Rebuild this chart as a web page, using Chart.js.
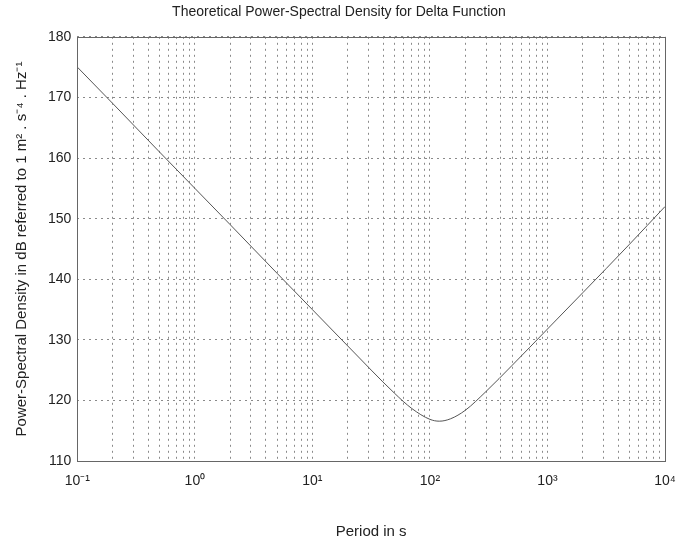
<!DOCTYPE html>
<html>
<head>
<meta charset="utf-8">
<script src="https://cdn.jsdelivr.net/npm/chart.js@4/dist/chart.umd.min.js"></script>
<style>
  html, body { margin: 0; padding: 0; background: #fff; }
  #wrap { width: 682px; height: 545px; }
</style>
</head>
<body>
<div id="wrap"><canvas id="psd" width="682" height="545"></canvas></div>
<script>
// period (s) and theoretical PSD (dB re 1 m^2 s^-4 Hz^-1)
const periods = [0.1, 0.2, 0.5, 1, 2, 5, 10, 20, 50, 70, 100, 120, 150, 200, 300, 500, 1000, 2000, 5000, 10000];
const psdDb   = [175, 169, 161, 155, 149, 141, 135, 129, 121.2, 118.7, 116.9, 116.6, 117.0, 118.4, 121.5, 125.8, 131.8, 137.8, 145.8, 152];

const yTicks = [110, 120, 130, 140, 150, 160, 170, 180];
const xDecades = [0.1, 1, 10, 100, 1000, 10000];
const xDecadeLabels = ['10⁻¹', '10⁰', '10¹', '10²', '10³', '10⁴'];

const font = "'Liberation Sans', Arial, sans-serif";

// box around the axes, like the classic plot frame
const frame = {
  id: 'frame',
  afterDraw(chart) {
    const a = chart.chartArea, c = chart.ctx;
    c.save();
    c.strokeStyle = '#666';
    c.lineWidth = 1;
    c.strokeRect(Math.round(a.left) + 0.5, Math.round(a.top) + 0.5,
                 Math.round(a.right - a.left), Math.round(a.bottom - a.top));
    c.restore();
  }
};

new Chart(document.getElementById('psd'), {
  type: 'line',
  data: {
    datasets: [{
      data: periods.map((p, i) => ({x: p, y: psdDb[i]})),
      borderColor: '#555',
      borderWidth: 1,
      pointRadius: 0,
      tension: 0.4,
      cubicInterpolationMode: 'monotone'
    }]
  },
  options: {
    responsive: false,
    animation: false,
    layout: { autoPadding: false, padding: { left: 13, right: 17, top: 0, bottom: 4 } },
    plugins: {
      legend: { display: false },
      tooltip: { enabled: false },
      title: {
        display: true,
        text: 'Theoretical Power-Spectral Density for Delta Function',
        color: '#222',
        font: { family: font, size: 14, weight: 'normal' },
        padding: { top: 4, bottom: 16 }
      }
    },
    scales: {
      x: {
        type: 'logarithmic',
        min: 0.1,
        max: 10000,
        afterBuildTicks(scale) {
          const t = [];
          xDecades.forEach(d => {
            for (let m = 1; m <= 9; m++) {
              const v = +(d * m).toPrecision(6);
              if (v <= 10000) t.push({ value: v });
              if (d === 10000) break;
            }
          });
          scale.ticks = t;
        },
        // let the end labels hang past the plot edge
        afterFit(scale) {
          scale.paddingLeft = 0;
          scale.paddingRight = 0;
        },
        ticks: {
          autoSkip: false,
          maxRotation: 0,
          color: '#222',
          padding: 12,
          font: { family: font, size: 14 },
          callback(v) {
            const i = xDecades.findIndex(d => Math.abs(d - v) < 1e-9);
            return i >= 0 ? xDecadeLabels[i] : '';
          }
        },
        grid: { color: '#8a8a8a', lineWidth: 1, drawTicks: false },
        border: { display: false, dash: [2, 4] },
        title: {
          display: true,
          text: 'Period in s',
          color: '#222',
          font: { family: font, size: 15 },
          padding: { top: 21, bottom: 0 }
        }
      },
      y: {
        min: 110,
        max: 180,
        afterBuildTicks(scale) { scale.ticks = yTicks.map(v => ({ value: v })); },
        ticks: {
          color: '#222',
          padding: 6,
          font: { family: font, size: 14 }
        },
        grid: { color: '#8a8a8a', lineWidth: 1, drawTicks: false },
        border: { display: false, dash: [2, 4] },
        title: {
          display: true,
          text: 'Power-Spectral Density in dB referred to 1 m² . s⁻⁴ . Hz⁻¹',
          color: '#222',
          font: { family: font, size: 15 },
          padding: { top: 0, bottom: 11 }
        }
      }
    }
  },
  plugins: [frame]
});
</script>
</body>
</html>
